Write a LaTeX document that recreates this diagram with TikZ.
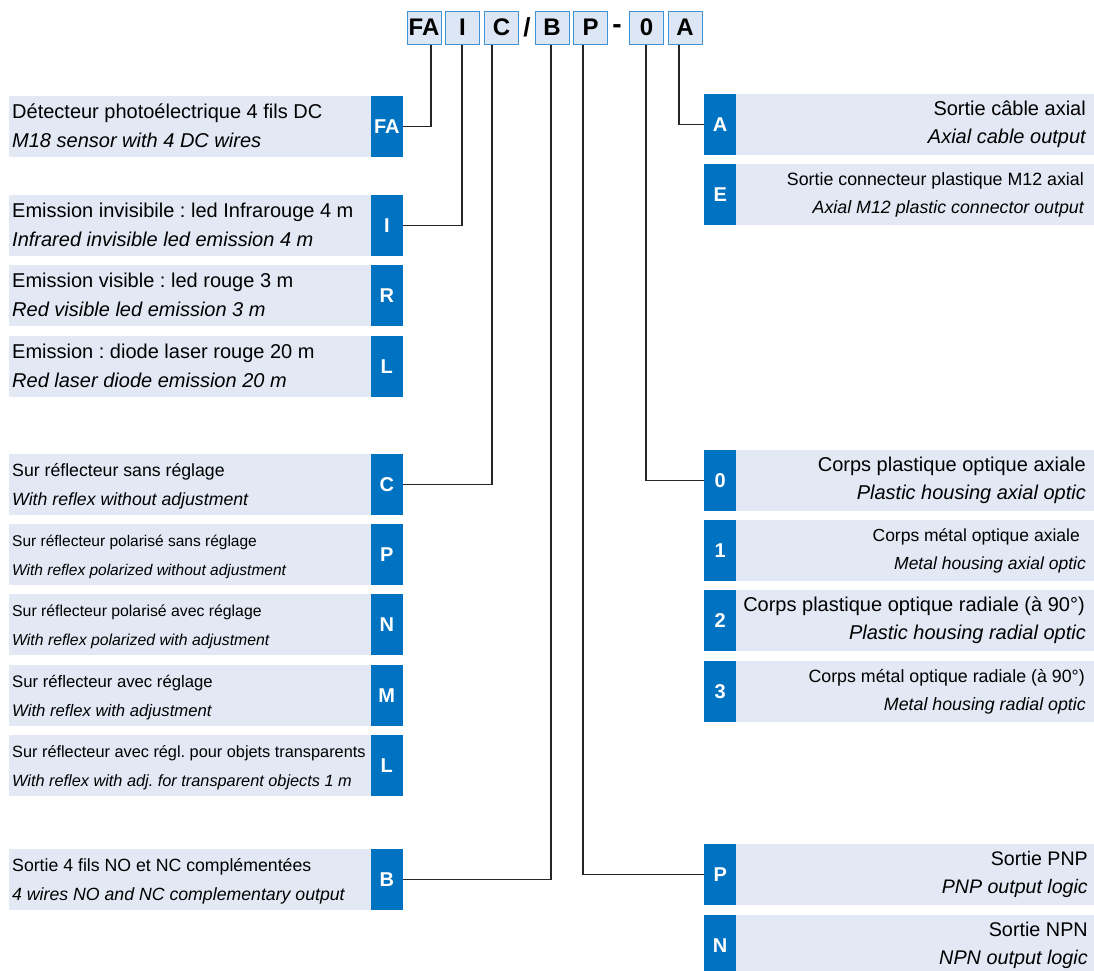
\documentclass[tikz,border=0pt]{standalone}
\usepackage{fontspec}
\setmainfont{Liberation Sans}
\usepackage{tikz}
\usetikzlibrary{positioning}
\usepackage{xcolor}
\definecolor{tagblue}{HTML}{0072C2}
\definecolor{rowfill}{HTML}{E2E8F4}
\definecolor{codefill}{HTML}{DCE6F4}
\definecolor{codeline}{HTML}{3E93D6}
\frenchspacing

\begin{document}
\begin{tikzpicture}[x=1pt, y=-1pt,
  code/.style={draw=codeline, fill=codefill, line width=1pt, minimum width=34pt, minimum height=33pt, inner sep=0pt, font=\fontsize{24}{24}\selectfont\bfseries},
  tag/.style={fill=tagblue, text=white, minimum width=32pt, minimum height=61pt, inner sep=0pt, font=\fontsize{20}{20}\selectfont\bfseries},
  band/.style={fill=rowfill, minimum height=61pt, inner sep=0pt},
  wire/.style={draw=black!85, line width=1.2pt}]
  \path[fill=white] (0,0) rectangle (1094,970);
  \useasboundingbox (0,0) rectangle (1094,970);

  % order code
  \node[code] (cFA) at (424,27.5) {FA};
  \node[code] (cI) at (462.5,27.5) {I};
  \node[code] (cC) at (501.5,27.5) {C};
  \node[font=\fontsize{26}{26}\selectfont\bfseries] (slash) at (527,27.5) {/};
  \node[code] (cB) at (552,27.5) {B};
  \node[code] (cP) at (590.5,27.5) {P};
  \node[font=\fontsize{28}{28}\selectfont\bfseries] (dash) at (617,29) {-};
  \node[code] (c0) at (646.5,27.5) {0};
  \node[code] (cA) at (685,27.5) {A};

  % options on the left
  \foreach \id/\lbl/\ytop/\sz/\frtext/\entext in {
    FA/FA/96/20/{Détecteur photoélectrique 4 fils DC}/{M18 sensor with 4 DC wires},
    I/I/195/20/{Emission invisibile : led Infrarouge 4 m}/{Infrared invisible led emission 4 m},
    R/R/265/20/{Emission visible : led rouge 3 m}/{Red visible led emission 3 m},
    L/L/336/20/{Emission : diode laser rouge 20 m}/{Red laser diode emission 20 m},
    C/C/454/17.7/{Sur réflecteur sans réglage}/{With reflex without adjustment},
    P/P/524/15.5/{Sur réflecteur polarisé sans réglage}/{With reflex polarized without adjustment},
    N/N/594/15.8/{Sur réflecteur polarisé avec réglage}/{With reflex polarized with adjustment},
    M/M/665/16.7/{Sur réflecteur avec réglage}/{With reflex with adjustment},
    Lb/L/735/16.3/{Sur réflecteur avec régl. pour objets transparents}/{With reflex with adj. for transparent objects 1 m},
    B/B/849/17.7/{Sortie 4 fils NO et NC complémentées}/{4 wires NO and NC complementary output}}
  {
    \node[band, minimum width=364pt, anchor=north west] (b\id) at (9,\ytop) {};
    \node[tag, anchor=north east] (l\id) at (403,\ytop) {\lbl};
    \node[anchor=base west, inner sep=0pt, font=\fontsize{\sz}{\sz}\selectfont] at (12,\ytop+22) {\frtext};
    \node[anchor=base west, inner sep=0pt, font=\fontsize{\sz}{\sz}\selectfont\itshape] at (12,\ytop+51) {\entext};
  }

  % options on the right
  \foreach \id/\lbl/\ytop/\sz/\xa/\xb/\frtext/\entext in {
    A/A/94/20/1086/1086/{Sortie câble axial}/{Axial cable output},
    E/E/164/17.8/1084/1084/{Sortie connecteur plastique M12 axial}/{Axial M12 plastic connector output},
    0/0/450/20/1086/1086/{Corps plastique optique axiale}/{Plastic housing axial optic},
    1/1/520/17.5/1080/1086/{Corps métal optique axiale}/{Metal housing axial optic},
    2/2/590/20/1085/1086/{Corps plastique optique radiale (à 90°)}/{Plastic housing radial optic},
    3/3/661/17.8/1085/1086/{Corps métal optique radiale (à 90°)}/{Metal housing radial optic},
    P/P/844/19.6/1088/1088/{Sortie PNP}/{PNP output logic},
    N/N/915/19.8/1088/1088/{Sortie NPN}/{NPN output logic}}
  {
    \node[band, minimum width=360pt, anchor=north west] (rb\id) at (734,\ytop) {};
    \node[tag, anchor=north west] (r\id) at (704,\ytop) {\lbl};
    \node[anchor=base east, inner sep=0pt, font=\fontsize{\sz}{\sz}\selectfont] at (\xa,\ytop+21) {\frtext};
    \node[anchor=base east, inner sep=0pt, font=\fontsize{\sz}{\sz}\selectfont\itshape] at (\xb,\ytop+49) {\entext};
  }

  % links from the code to the options
  \draw[wire] ([xshift=7pt]cFA.south) |- (lFA.east);
  \draw[wire] ([xshift=-0.5pt]cI.south) |- (lI.east);
  \draw[wire] ([xshift=-9.5pt]cC.south) |- (lC.east);
  \draw[wire] ([xshift=-1pt]cB.south) |- (lB.east);
  \draw[wire] ([xshift=-7.5pt]cP.south) |- (rP.west);
  \draw[wire] ([xshift=-0.5pt]c0.south) |- (r0.west);
  \draw[wire] ([xshift=-6pt]cA.south) |- (rA.west);
\end{tikzpicture}
\end{document}
